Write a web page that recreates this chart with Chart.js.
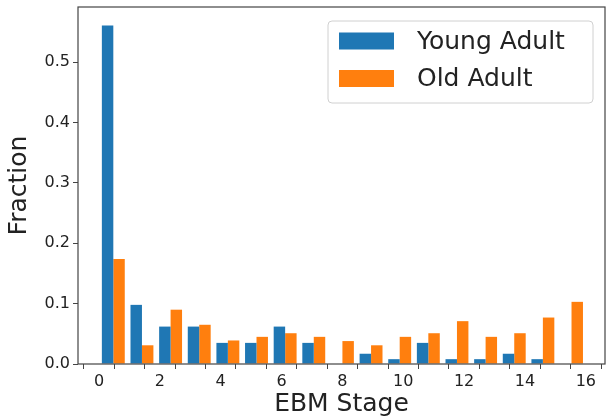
<!DOCTYPE html>
<html>
<head>
<meta charset="utf-8">
<script src="https://cdn.jsdelivr.net/npm/chart.js@4/dist/chart.umd.min.js"></script>
<style>
  html, body { margin: 0; padding: 0; background: #fff; }
  #wrap { width: 606px; height: 420px; }
</style>
</head>
<body>
<div id="wrap"><canvas id="myChart" width="606" height="420"></canvas></div>
<script>
// 17 histogram bins spread over stages 0..16
const stages = [0, 1, 2, 3, 4, 5, 6, 7, 8, 9, 10, 11, 12, 13, 14, 15, 16];
const youngAdult = [0.561, 0.098, 0.062, 0.062, 0.035, 0.035, 0.062, 0.035, 0, 0.017, 0.008, 0.035, 0.008, 0.008, 0.017, 0.008, 0];
const oldAdult = [0.174, 0.031, 0.090, 0.065, 0.039, 0.045, 0.051, 0.045, 0.038, 0.031, 0.045, 0.051, 0.071, 0.045, 0.051, 0.077, 0.103];
const seriesNames = ['Young Adult', 'Old Adult'];
const seriesColors = ['#1f77b4', '#ff7f0e'];
const xTicks = [0, 2, 4, 6, 8, 10, 12, 14, 16];
const yTicks = [0, 0.1, 0.2, 0.3, 0.4, 0.5];

const FONT = "'DejaVu Sans', sans-serif";
const binWidth = 16 / stages.length;
const binCenter = i => (i + 0.5) * binWidth;

// frame + legend drawn like matplotlib
const framePlugin = {
  id: 'frame',
  afterDraw(chart) {
    const { ctx, chartArea: a } = chart;
    ctx.save();
    ctx.strokeStyle = '#444';
    ctx.lineWidth = 1.2;
    ctx.strokeRect(a.left, a.top, a.right - a.left, a.bottom - a.top);

    // legend box
    const bx = 328, by = 21, bw = 265, bh = 82, r = 4;
    ctx.beginPath();
    ctx.roundRect(bx, by, bw, bh, r);
    ctx.fillStyle = 'rgba(255,255,255,0.8)';
    ctx.fill();
    ctx.strokeStyle = '#d0d0d0';
    ctx.lineWidth = 1;
    ctx.stroke();

    ctx.font = '25px ' + FONT;
    ctx.textBaseline = 'middle';
    ctx.textAlign = 'left';
    const rows = [41, 78.5];
    seriesNames.forEach((name, i) => {
      ctx.fillStyle = seriesColors[i];
      ctx.fillRect(339, rows[i] - 8.5, 55, 17);
      ctx.fillStyle = '#222';
      ctx.fillText(name, 417, rows[i] + 1);
    });
    ctx.restore();
  }
};

const ctx = document.getElementById('myChart');
new Chart(ctx, {
  type: 'bar',
  data: {
    datasets: [
      {
        label: seriesNames[0],
        data: stages.map((s, i) => ({ x: binCenter(i), y: youngAdult[i] })),
        backgroundColor: seriesColors[0],
        borderWidth: 0
      },
      {
        label: seriesNames[1],
        data: stages.map((s, i) => ({ x: binCenter(i), y: oldAdult[i] })),
        backgroundColor: seriesColors[1],
        borderWidth: 0
      }
    ]
  },
  options: {
    responsive: false,
    animation: false,
    layout: { padding: { top: 7, right: 1, left: 0, bottom: 0 } },
    datasets: {
      bar: { categoryPercentage: 0.8, barPercentage: 1.0 }
    },
    plugins: {
      legend: { display: false },
      tooltip: { enabled: false }
    },
    scales: {
      x: {
        type: 'linear',
        offset: false,
        min: -0.69,
        max: 16.63,
        afterBuildTicks: scale => {
          scale.ticks = stages.map(v => ({ value: v }));
        },
        afterFit: scale => {
          scale.height = 56;
          scale.paddingLeft = 0;
          scale.paddingRight = 0;
        },
        ticks: {
          autoSkip: false,
          maxRotation: 0,
          padding: 3,
          color: '#222',
          font: { family: FONT, size: 16 },
          callback: v => (xTicks.includes(v) ? String(v) : '')
        },
        grid: { display: true, drawOnChartArea: false, drawTicks: true, tickLength: 5, color: '#444', lineWidth: 1 },
        border: { display: false },
        title: {
          display: true,
          text: 'EBM Stage',
          color: '#222',
          font: { family: FONT, size: 25 },
          padding: { top: 0, bottom: 1 }
        }
      },
      y: {
        min: 0,
        max: 0.5916,
        afterBuildTicks: scale => {
          scale.ticks = yTicks.map(v => ({ value: v }));
        },
        afterFit: scale => {
          scale.width = 78;
          scale.paddingTop = 0;
          scale.paddingBottom = 0;
        },
        ticks: {
          padding: 3,
          color: '#222',
          font: { family: FONT, size: 16 },
          callback: v => v.toFixed(1)
        },
        grid: { display: true, drawOnChartArea: false, drawTicks: true, tickLength: 5, color: '#444', lineWidth: 1 },
        border: { display: false },
        title: {
          display: true,
          text: 'Fraction',
          color: '#222',
          font: { family: FONT, size: 25 },
          padding: { top: 4, bottom: 0 }
        }
      }
    }
  },
  plugins: [framePlugin]
});
</script>
</body>
</html>
